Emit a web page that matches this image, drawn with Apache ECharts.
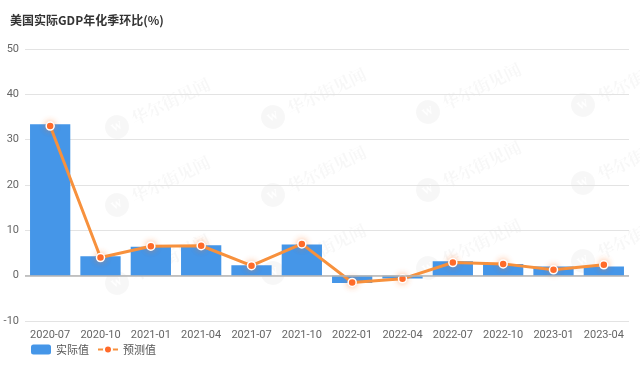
<!DOCTYPE html>
<html>
<head>
<meta charset="utf-8">
<script src="https://cdn.jsdelivr.net/npm/echarts@6/dist/echarts.min.js"></script>
<style>html,body{margin:0;padding:0;background:#fff;}#c{width:640px;height:365px;}</style>
</head>
<body>
<div id="c"></div>
<script>
const categories = ['2020-07','2020-10','2021-01','2021-04','2021-07','2021-10','2022-01','2022-04','2022-07','2022-10','2023-01','2023-04'];
const actualValues = [33.4, 4.3, 6.4, 6.7, 2.3, 6.9, -1.6, -0.6, 3.2, 2.6, 2.0, 2.0];
const forecastValues = [33.0, 4.0, 6.5, 6.6, 2.2, 7.0, -1.5, -0.7, 2.9, 2.6, 1.3, 2.4];
const seriesNames = ['实际值', '预测值'];
const titleText = '美国实际GDP年化季环比(%)';
const watermarkText = '华尔街见闻';

const chart = echarts.init(document.getElementById('c'), null, {renderer: 'canvas'});

const wmPositions = [[117,127],[117,205],[117,283],[273,117],[273,195],[273,273],[428,112],[428,190],[428,268],[583,105],[583,183],[583,261]];
const graphics = wmPositions.map(p => ({
  type: 'group', x: p[0], y: p[1], rotation: Math.PI / 7, silent: true, z: -1,
  children: [
    {type: 'circle', shape: {cx: 0, cy: 0, r: 12}, style: {fill: 'rgba(0,0,0,0.03)'}},
    {type: 'text', x: 0, y: 0, style: {text: 'W', fill: 'rgba(255,255,255,0.9)', font: 'bold 11px serif', align: 'center', verticalAlign: 'middle'}},
    {type: 'text', x: 17, y: 0, style: {text: watermarkText, fill: 'rgba(0,0,0,0.03)', font: 'bold 17px "Noto Serif CJK SC", serif', verticalAlign: 'middle'}}
  ]
}));

chart.setOption({
  animation: false,
  backgroundColor: '#fff',
  title: {text: titleText, left: 5, top: 9, textStyle: {fontSize: 12, fontWeight: 'bold', color: '#333', fontFamily: '"Noto Sans CJK SC", sans-serif'}},
  graphic: graphics,
  legend: {
    left: 26, bottom: 5, itemGap: 8, itemWidth: 20, itemHeight: 10,
    textStyle: {fontSize: 11, color: '#555', fontFamily: '"Noto Sans CJK SC", sans-serif'},
    data: [
      {name: seriesNames[0], icon: 'roundRect'},
      {name: seriesNames[1]}
    ]
  },
  grid: {left: 25, right: 11, top: 49, bottom: 44, containLabel: false},
  xAxis: {
    type: 'category', data: categories,
    axisLine: {show: false, onZero: false},
    axisTick: {show: false},
    axisLabel: {color: '#666', fontSize: 11, margin: 9, interval: 0, fontFamily: 'Roboto, sans-serif'}
  },
  yAxis: {
    type: 'value', min: -10, max: 50, interval: 10,
    axisLine: {show: false}, axisTick: {show: false},
    axisLabel: {color: '#666', fontSize: 11, margin: 6, fontFamily: 'Roboto, sans-serif'},
    splitLine: {lineStyle: {color: '#e3e3e3', width: 1}}
  },
  series: [
    {
      name: seriesNames[0], type: 'bar', data: actualValues, barCategoryGap: '20%',
      itemStyle: {color: '#4596e8'},
      markLine: {silent: true, symbol: 'none', label: {show: false}, lineStyle: {color: '#b5b5b5', type: 'solid', width: 1.5}, data: [{yAxis: 0}]}
    },
    {
      name: seriesNames[1], type: 'line', data: forecastValues,
      symbol: 'circle', symbolSize: 8,
      lineStyle: {color: '#f7913d', width: 3},
      itemStyle: {color: '#ff6a2a', borderColor: '#fff', borderWidth: 1.5, shadowBlur: 6, shadowColor: 'rgba(255,120,40,0.45)'},
      z: 3
    }
  ]
});
</script>
</body>
</html>
